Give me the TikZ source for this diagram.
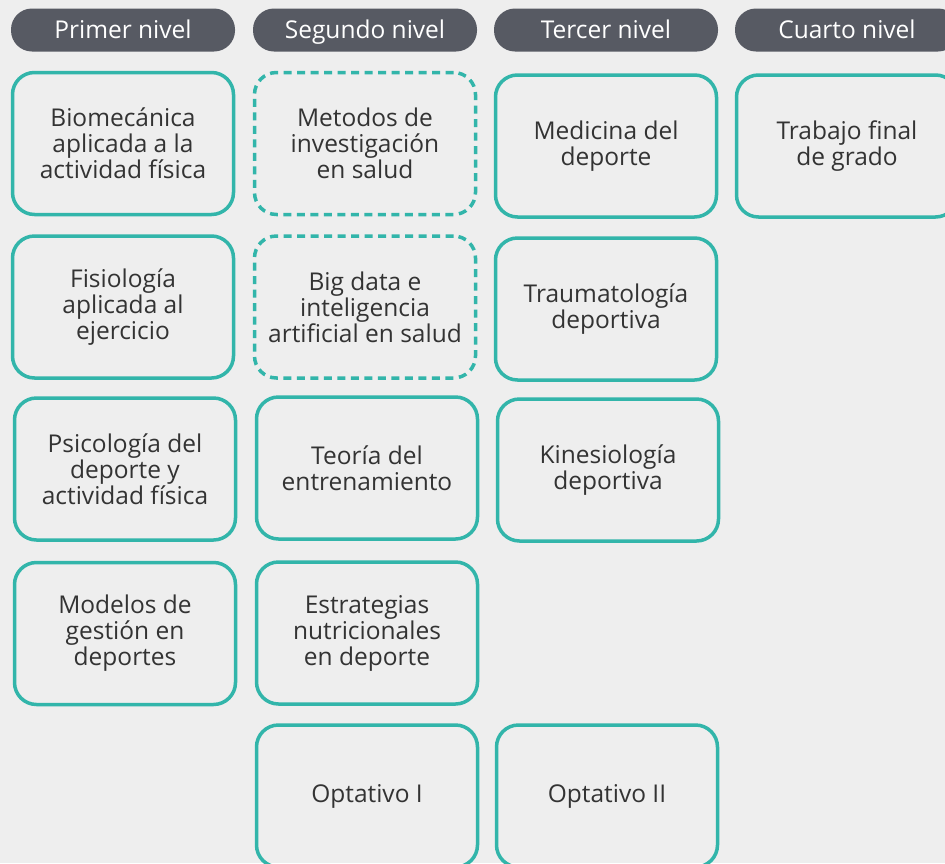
\documentclass[tikz,border=0pt]{standalone}
\usepackage{fontspec}
\setmainfont{Open Sans}
\usepackage{tikz}
\usetikzlibrary{shapes,positioning}
\definecolor{bgfill}{RGB}{238,238,238}
\definecolor{headfill}{RGB}{87,90,99}
\definecolor{tealline}{RGB}{50,181,170}
\definecolor{coursetext}{RGB}{51,51,51}

\begin{document}
\begin{tikzpicture}[
    x=1pt, y=-1pt,
    header/.style={rectangle, fill=headfill, rounded corners=21pt, minimum width=224pt, minimum height=43pt, text=white, font=\fontsize{24.5}{26}\selectfont, text height=17.5pt, text depth=0pt, inner sep=0pt},
    course/.style={rectangle, draw=tealline, line width=3.5pt, rounded corners=22pt, minimum width=221pt, minimum height=142pt, text=coursetext, font=\fontsize{24.5}{26}\selectfont, align=center, inner sep=0pt},
    optcourse/.style={course, dash pattern=on 8pt off 5.5pt}
]
\path[use as bounding box, fill=bgfill] (0,0) rectangle (945,863);

% headers
\node[header] (h1) at (123, 30) {Primer nivel};
\node[header] (h2) at (365, 30) {Segundo nivel};
\node[header] (h3) at (606, 30) {Tercer nivel};
\node[header] (h4) at (847, 30) {Cuarto nivel};

% primer nivel
\node[course] (bio) at (123, 143.5) {Biomecánica\\aplicada a la\\actividad física};
\node[course] (fisio) at (123, 307) {Fisiología\\aplicada al\\ejercicio};
\node[course] (psico) at (125, 469) {Psicología del\\deporte y\\actividad física};
\node[course] (gestion) at (125, 633.5) {Modelos de\\gestión en\\deportes};

% segundo nivel
\node[optcourse] (metodos) at (365, 143.5) {Metodos de\\investigación\\en salud};
\node[optcourse] (bigdata) at (365, 307) {Big data e\\inteligencia\\artificial en salud};
\node[course] (teoria) at (367, 468) {Teoría del\\entrenamiento};
\node[course] (nutri) at (367, 633) {Estrategias\\nutricionales\\en deporte};
\node[course] (opt1) at (367, 796) {Optativo I};

% tercer nivel
\node[course] (medicina) at (606, 146) {Medicina del\\deporte};
\node[course] (trauma) at (606, 309) {Traumatología\\deportiva};
\node[course] (kine) at (608, 470) {Kinesiología\\deportiva};
\node[course] (opt2) at (607, 796) {Optativo II};

% cuarto nivel
\node[course] (tfg) at (847, 146) {Trabajo final\\de grado};
\end{tikzpicture}
\end{document}
